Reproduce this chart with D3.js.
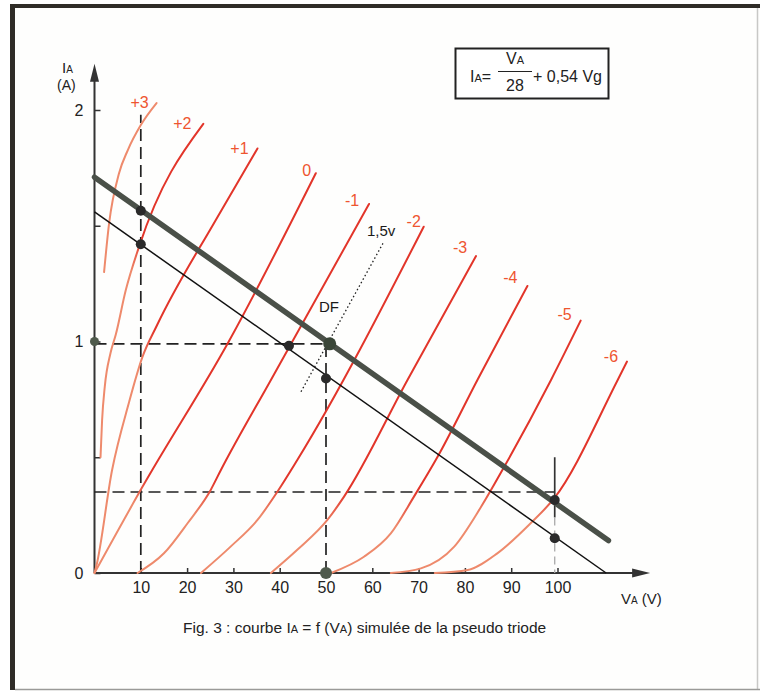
<!DOCTYPE html>
<html lang="fr">
<head>
<meta charset="UTF-8">
<title>Fig. 3 : courbe IA = f (VA)</title>
<script src="https://d3js.org/d3.v7.min.js"></script>
<style>
  body { margin: 0; background: #fff; }
  svg { display: block; font-family: "Liberation Sans", Arial, sans-serif; }
  .tick text { font-size: 16px; fill: #222; }
  .tick line { stroke: #333; stroke-width: 1.5px; }
  .curve-label { font-size: 16px; fill: #ee5530; text-anchor: middle; }
  .note { font-size: 15px; fill: #1a1a1a; }
</style>
</head>
<body>
<svg width="760" height="691"></svg>
<script>
// grid voltage of each red curve (Vg)
var gridLabels = ["+3", "+2", "+1", "0", "-1", "-2", "-3", "-4", "-5", "-6"];

var curveP3 = [[2.07, 1.30], [3.15, 1.51], [5.3, 1.727], [7.2, 1.827], [10.0, 1.935], [13.4, 2.03]];
var curveP2 = [[1.3, 0.50], [1.64, 0.66], [2.22, 0.805], [3.46, 0.95], [4.6, 1.03], [6.76, 1.222], [9.63, 1.41], [23.5, 1.94]];
var curveP1 = [[0, 0], [0.4, 0.03], [3.8, 0.445], [7.4, 0.733], [10.3, 0.93], [13.5, 1.07], [26.2, 1.525], [35.2, 1.834]];
var curve0  = [[0, 0], [10.3, 0.37], [29.0, 1.0], [47.8, 1.727]];
var curveM1 = [[9.3, 0], [15.0, 0.085], [20.1, 0.215], [25.1, 0.359], [27.3, 0.445], [38.1, 0.834], [59.3, 1.594]];
var curveM2 = [[23.0, 0], [29.4, 0.114], [35.2, 0.229], [39.5, 0.351], [43.8, 0.488], [71.1, 1.496]];
var curveM3 = [[38.1, 0], [43.8, 0.10], [50.3, 0.229], [53.9, 0.33], [67.6, 0.834], [82.4, 1.369]];
var curveM4 = [[51.1, 0], [58.2, 0.07], [64.0, 0.171], [69.0, 0.33], [74.1, 0.502], [82.7, 0.834], [93.5, 1.24]];
var curveM5 = [[64.0, 0], [70.5, 0.02], [77.7, 0.114], [83.5, 0.286], [88.5, 0.459], [98.6, 0.834], [105.0, 1.09]];
var curveM6 = [[73.5, 0], [80.6, 0.013], [87.0, 0.085], [94.2, 0.215], [99.3, 0.323], [113.0, 0.834], [115.0, 0.913]];

// black construction lines
var loadLineThick = [[0, 1.71], [111, 0.14]];
var loadLineThin = [[0, 1.56], [110.5, 0]];
var operatingPoints = [[10, 1.565], [10, 1.42], [42, 0.982], [50, 0.84], [99.4, 0.315], [99.4, 0.15]];
var dfPoint = [50.8, 0.99];
var axisDots = [[0, 1], [50, 0]];
var dashedGuides = [
    [[10, 0], [10, 1.98]],
    [[50, 0], [50, 0.99]],
    [[0, 0.99], [50, 0.99]],
    [[0, 0.35], [99.4, 0.35]]
];
var markerV100 = [[99.4, 0.5], [99.4, 0.24]];
var markerV100Faint = [[99.4, 0.24], [99.4, 0]];
var dottedLine = [[44.6, 0.783], [62.5, 1.431]];

var xTicks = [10, 20, 30, 40, 50, 60, 70, 80, 90, 100];
var yTicks = [0, 0.5, 1, 1.5, 2];
var xAxisEnd = 120, yAxisEnd = 2.2;

// styling per curve (IA band where light orange turns to red, label offsets)
var curveFade = [[2.5, 3], [1.3, 1.45], [0.9, 1.05], [0.3, 0.42], [0.25, 0.4], [0.25, 0.4], [0.2, 0.35], [0.2, 0.35], [0.25, 0.4], [0.22, 0.36]];
var labelDx = [-17, -21, -18, -9, -17, -10, -16, -17, -16, -16];
var labelDy = [5, 5, 6, 3, 2, 0, -3, -3, -1, 0];

var curves = [curveP3, curveP2, curveP1, curve0, curveM1, curveM2, curveM3, curveM4, curveM5, curveM6];

var svg = d3.select("svg");

var x = d3.scaleLinear().domain([0, 100]).range([94.5, 557.5]);
var y = d3.scaleLinear().domain([0, 2]).range([573, 110]);

var line = d3.line()
    .x(function(d) { return x(d[0]); })
    .y(function(d) { return y(d[1]); });
var smooth = d3.line()
    .x(function(d) { return x(d[0]); })
    .y(function(d) { return y(d[1]); })
    .curve(d3.curveMonotoneX);

// frame of the scanned page
svg.append("rect").attr("x", 10).attr("y", 4).attr("width", 750).attr("height", 686).attr("fill", "#fefefd");
svg.append("line").attr("x1", 10).attr("y1", 6).attr("x2", 760).attr("y2", 6)
    .attr("stroke", "#2f2c27").attr("stroke-width", 4);
svg.append("line").attr("x1", 12.5).attr("y1", 4).attr("x2", 12.5).attr("y2", 690)
    .attr("stroke", "#2f2c27").attr("stroke-width", 5);
svg.append("line").attr("x1", 757.5).attr("y1", 8).attr("x2", 757.5).attr("y2", 690)
    .attr("stroke", "#c8c8c6").attr("stroke-width", 1.5);
svg.append("line").attr("x1", 15).attr("y1", 689.5).attr("x2", 760).attr("y2", 689.5)
    .attr("stroke", "#9a9a98").attr("stroke-width", 1.5);

// axes
var gx = svg.append("g")
    .attr("transform", "translate(0," + y(0) + ")")
    .call(d3.axisBottom(x).tickValues(xTicks).tickSizeInner(-5).tickSizeOuter(0).tickPadding(9));
gx.select(".domain").remove();

var gy = svg.append("g")
    .attr("transform", "translate(" + x(0) + ",0)")
    .call(d3.axisLeft(y).tickValues(yTicks).tickSizeInner(-6).tickSizeOuter(0).tickPadding(11)
        .tickFormat(function(d) { return d % 1 === 0 ? d : ""; }));
gy.select(".domain").remove();

svg.append("line").attr("x1", x(0)).attr("y1", y(0)).attr("x2", x(xAxisEnd) - 8).attr("y2", y(0))
    .attr("stroke", "#333").attr("stroke-width", 2);
svg.append("line").attr("x1", x(0)).attr("y1", y(0)).attr("x2", x(0)).attr("y2", y(yAxisEnd) + 8)
    .attr("stroke", "#333").attr("stroke-width", 2);
svg.append("path")
    .attr("d", "M" + x(xAxisEnd) + "," + y(0) + "l-18,-4.5l0,9z")
    .attr("fill", "#333");
svg.append("path")
    .attr("d", "M" + x(0) + "," + y(yAxisEnd) + "l-4.5,18l9,0z")
    .attr("fill", "#333");

// axis titles
var ty = svg.append("text").attr("x", 62).attr("y", 73).attr("font-size", 15).attr("fill", "#222");
ty.append("tspan").text("I");
ty.append("tspan").attr("font-size", 10).text("A");
svg.append("text").attr("x", 57).attr("y", 90).attr("font-size", 14).attr("fill", "#222").text("(A)");

var tx = svg.append("text").attr("x", 621).attr("y", 604).attr("font-size", 15).attr("fill", "#222");
tx.append("tspan").text("V");
tx.append("tspan").attr("font-size", 10).text("A");
tx.append("tspan").text(" (V)");

// dashed guides
svg.append("g").selectAll("path")
    .data(dashedGuides)
    .enter().append("path")
    .attr("d", line)
    .attr("fill", "none")
    .attr("stroke", "#222")
    .attr("stroke-width", 1.7)
    .attr("stroke-dasharray", "12,6");

svg.append("path").attr("d", line(markerV100))
    .attr("stroke", "#333").attr("stroke-width", 1.7);
svg.append("path").attr("d", line(markerV100Faint))
    .attr("stroke", "#aaa").attr("stroke-width", 1.3).attr("stroke-dasharray", "8,5");

// red curves with light orange foot
var defs = svg.append("defs");
curves.forEach(function(pts, i) {
    var g = defs.append("linearGradient")
        .attr("id", "fade" + i)
        .attr("gradientUnits", "userSpaceOnUse")
        .attr("x1", 0).attr("x2", 0)
        .attr("y1", y(curveFade[i][0])).attr("y2", y(curveFade[i][1]));
    g.append("stop").attr("offset", 0).attr("stop-color", "#ee8a6c");
    g.append("stop").attr("offset", 1).attr("stop-color", "#e2352a");
});

svg.append("g").selectAll("path")
    .data(curves)
    .enter().append("path")
    .attr("d", smooth)
    .attr("fill", "none")
    .attr("stroke", function(d, i) { return "url(#fade" + i + ")"; })
    .attr("stroke-width", 2)
    .attr("stroke-linecap", "round");

svg.append("g").selectAll("text")
    .data(curves)
    .enter().append("text")
    .attr("class", "curve-label")
    .attr("x", function(d, i) { return x(d[d.length - 1][0]) + labelDx[i]; })
    .attr("y", function(d, i) { return y(d[d.length - 1][1]) + labelDy[i]; })
    .text(function(d, i) { return gridLabels[i]; });

// load lines
svg.append("path").attr("d", line(loadLineThick))
    .attr("stroke", "#4a5048").attr("stroke-width", 5.5).attr("stroke-linecap", "round");
svg.append("path").attr("d", line(loadLineThin))
    .attr("stroke", "#111").attr("stroke-width", 1.5);

// 1,5 V dotted segment
svg.append("path").attr("d", line(dottedLine))
    .attr("stroke", "#222").attr("stroke-width", 1.3).attr("stroke-dasharray", "1.5,2.5");
svg.append("text").attr("class", "note").attr("x", 367).attr("y", 236).text("1,5v");
svg.append("text").attr("class", "note").attr("x", 319).attr("y", 312).text("DF");

// points
svg.append("g").selectAll("circle")
    .data(operatingPoints)
    .enter().append("circle")
    .attr("cx", function(d) { return x(d[0]); })
    .attr("cy", function(d) { return y(d[1]); })
    .attr("r", 5)
    .attr("fill", "#2a2a2a");
svg.append("g").selectAll("circle")
    .data(axisDots)
    .enter().append("circle")
    .attr("cx", function(d) { return x(d[0]); })
    .attr("cy", function(d) { return y(d[1]); })
    .attr("r", function(d, i) { return i === 0 ? 4.5 : 6; })
    .attr("fill", "#4f5a4c");
svg.append("circle")
    .attr("cx", x(dfPoint[0])).attr("cy", y(dfPoint[1]))
    .attr("r", 6.5).attr("fill", "#3a4638");

// formula box
svg.append("rect").attr("x", 455.5).attr("y", 48.5).attr("width", 153).attr("height", 50)
    .attr("fill", "#fff").attr("stroke", "#222").attr("stroke-width", 2);
var f1 = svg.append("text").attr("x", 470).attr("y", 82).attr("font-size", 16).attr("fill", "#222");
f1.append("tspan").text("I");
f1.append("tspan").attr("font-size", 11).text("A");
f1.append("tspan").text("=");
var f2 = svg.append("text").attr("x", 515).attr("y", 64).attr("font-size", 16).attr("fill", "#222").attr("text-anchor", "middle");
f2.append("tspan").text("V");
f2.append("tspan").attr("font-size", 11).text("A");
svg.append("line").attr("x1", 498).attr("x2", 532).attr("y1", 71.5).attr("y2", 71.5)
    .attr("stroke", "#222").attr("stroke-width", 1.2);
svg.append("text").attr("x", 515).attr("y", 91).attr("font-size", 16).attr("fill", "#222")
    .attr("text-anchor", "middle").text("28");
svg.append("text").attr("x", 533).attr("y", 82).attr("font-size", 16).attr("fill", "#222").text("+ 0,54 Vg");

// caption
var cap = svg.append("text").attr("x", 183).attr("y", 633).attr("font-size", 15.5).attr("fill", "#222");
cap.append("tspan").text("Fig. 3 : courbe I");
cap.append("tspan").attr("font-size", 11).text("A");
cap.append("tspan").text(" = f (V");
cap.append("tspan").attr("font-size", 11).text("A");
cap.append("tspan").text(") simulée de la pseudo triode");
</script>
</body>
</html>
